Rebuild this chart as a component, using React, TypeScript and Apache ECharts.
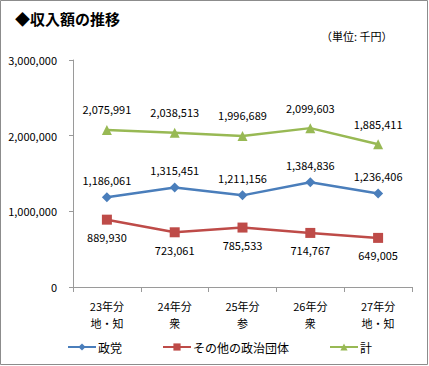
import React, { useEffect, useRef } from "react";
import * as echarts from "echarts";

const categories = ["23年分\n地・知", "24年分\n衆", "25年分\n参", "26年分\n衆", "27年分\n地・知"];
const seitou = [1186061, 1315451, 1211156, 1384836, 1236406];
const sonota = [889930, 723061, 785533, 714767, 649005];
const kei = [2075991, 2038513, 1996689, 2099603, 1885411];

const FONT = "'Noto Sans CJK JP', 'Noto Sans', sans-serif";
const fmt = (v: number) => v.toLocaleString("en-US");

export default function App() {
  const ref = useRef<HTMLDivElement>(null);
  useEffect(() => {
    document.body.style.margin = "0";
    const chart = echarts.init(ref.current!, null, { renderer: "svg" });
    const labelStyle = { fontFamily: FONT, fontSize: 11, color: "#000" };
    chart.setOption({
      animation: false,
      backgroundColor: "#fff",
      textStyle: { fontFamily: FONT },
      graphic: [
        {
          type: "rect",
          shape: { x: 0.5, y: 0.5, width: 427, height: 364 },
          style: { fill: "none", stroke: "#8c8c8c", lineWidth: 1 },
        },
        {
          type: "text",
          left: 15,
          top: 11,
          style: { text: "◆収入額の推移", font: `bold 15px ${FONT}`, fill: "#000" },
        },
        {
          type: "text",
          left: 321,
          top: 30,
          style: { text: "（単位: 千円）", font: `11px ${FONT}`, fill: "#000" },
        },
      ],
      grid: { left: 73, right: 17, top: 60, bottom: 79, containLabel: false },
      xAxis: {
        type: "category",
        data: categories,
        boundaryGap: true,
        axisLine: { lineStyle: { color: "#9a9a9a", width: 1 } },
        axisTick: { show: true, length: 5, lineStyle: { color: "#9a9a9a" } },
        axisLabel: { ...labelStyle, lineHeight: 17, margin: 10 },
      },
      yAxis: {
        type: "value",
        min: 0,
        max: 3000000,
        interval: 1000000,
        axisLine: { show: true, lineStyle: { color: "#9a9a9a", width: 1 } },
        axisTick: { show: true, length: 4, lineStyle: { color: "#9a9a9a" } },
        splitLine: { show: false },
        axisLabel: { ...labelStyle, margin: 16, formatter: (v: number) => fmt(v) },
      },
      legend: {
        bottom: 8,
        left: 62,
        itemGap: 40,
        itemWidth: 28,
        itemHeight: 9,
        textStyle: { ...labelStyle, fontSize: 12, padding: [0, 0, 0, -3] },
        data: ["政党", "その他の政治団体", "計"],
      },
      series: [
        {
          name: "政党",
          type: "line",
          data: seitou,
          symbol: "diamond",
          symbolSize: 10,
          itemStyle: { color: "#4a7ebb" },
          lineStyle: { width: 2.5, color: "#4a7ebb" },
          label: { show: true, position: "top", distance: 7, ...labelStyle, formatter: (p: any) => fmt(p.value) },
        },
        {
          name: "その他の政治団体",
          type: "line",
          data: sonota,
          symbol: "rect",
          symbolSize: 10,
          itemStyle: { color: "#be4b48" },
          lineStyle: { width: 2.5, color: "#be4b48" },
          label: { show: true, position: "bottom", distance: 7, ...labelStyle, formatter: (p: any) => fmt(p.value) },
        },
        {
          name: "計",
          type: "line",
          data: kei,
          symbol: "triangle",
          symbolSize: 10,
          itemStyle: { color: "#98b954" },
          lineStyle: { width: 2.5, color: "#98b954" },
          label: { show: true, position: "top", distance: 10, ...labelStyle, formatter: (p: any) => fmt(p.value) },
        },
      ],
    });
    return () => chart.dispose();
  }, []);
  return <div ref={ref} style={{ width: 429, height: 366 }} />;
}
